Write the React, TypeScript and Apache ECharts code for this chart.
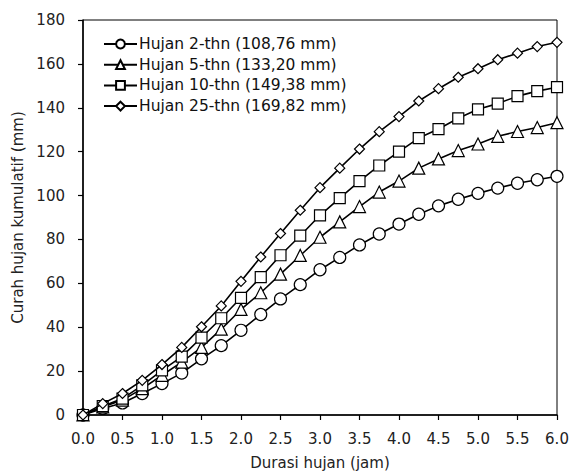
import React, { useEffect, useRef } from "react";
import * as echarts from "echarts";

const durations = [0, 0.25, 0.5, 0.75, 1, 1.25, 1.5, 1.75, 2, 2.25, 2.5, 2.75, 3, 3.25, 3.5, 3.75, 4, 4.25, 4.5, 4.75, 5, 5.25, 5.5, 5.75, 6];
const hujan2 = [0, 3.0, 5.5, 9.8, 14.3, 19.1, 25.6, 31.6, 38.6, 45.8, 52.9, 59.4, 66.2, 71.8, 77.5, 82.5, 87.0, 91.5, 95.3, 98.3, 101.0, 103.4, 105.6, 107.2, 108.76];
const hujan5 = [0, 3.7, 6.8, 12.0, 18.1, 24.1, 30.8, 39.1, 48.1, 55.7, 64.2, 72.7, 81.0, 88.0, 95.0, 101.6, 106.6, 112.5, 116.7, 120.5, 123.5, 127.0, 129.2, 131.0, 133.2];
const hujan10 = [0, 4.0, 7.5, 13.5, 20.3, 26.6, 35.3, 44.1, 53.4, 62.8, 72.8, 81.7, 91.0, 98.8, 106.6, 113.7, 120.0, 126.2, 130.3, 135.2, 139.3, 141.9, 145.3, 147.6, 149.38];
const hujan25 = [0, 5.2, 9.8, 15.8, 23.0, 30.8, 40.2, 49.7, 60.9, 72.0, 82.7, 93.3, 103.6, 112.5, 121.2, 129.1, 136.0, 143.1, 148.7, 153.9, 157.8, 161.9, 164.9, 167.9, 169.82];
const seriesNames = ["Hujan 2-thn (108,76 mm)", "Hujan 5-thn (133,20 mm)", "Hujan 10-thn (149,38 mm)", "Hujan 25-thn (169,82 mm)"];
const symbols = ["circle", "triangle", "rect", "diamond"];
const symbolSizes = [12, 12, 11, 10];

const FONT = "'DejaVu Sans', 'Liberation Sans', Arial, sans-serif";

export default function App() {
  const ref = useRef<HTMLDivElement>(null);
  useEffect(() => {
    if (!ref.current) return;
    const chart = echarts.init(ref.current, null, { renderer: "svg" });
    const all = [hujan2, hujan5, hujan10, hujan25];
    chart.setOption({
      animation: false,
      backgroundColor: "#fff",
      textStyle: { fontFamily: FONT },
      grid: { left: 83, right: 17, top: 20, bottom: 57, show: true, borderColor: "#000", borderWidth: 1 },
      legend: {
        orient: "vertical",
        left: 103,
        top: 36,
        padding: 0,
        itemWidth: 33,
        itemHeight: 11,
        itemGap: 4.7,
        textStyle: { fontSize: 15.5, lineHeight: 16, color: "#111", fontFamily: FONT, padding: [0, 0, 0, -3] },
        data: seriesNames,
      },
      xAxis: {
        type: "value",
        min: 0,
        max: 6,
        interval: 0.5,
        name: "Durasi hujan (jam)",
        nameLocation: "middle",
        nameGap: 40,
        nameTextStyle: { fontSize: 15, color: "#222", fontFamily: FONT },
        axisLine: { lineStyle: { color: "#000", width: 1.5 } },
        axisTick: { show: true, inside: false, length: 5, lineStyle: { color: "#000", width: 1.2 } },
        axisLabel: { fontSize: 15, color: "#222", margin: 16, fontFamily: FONT, formatter: (v: number) => v.toFixed(1) },
        splitLine: { show: false },
      },
      yAxis: {
        type: "value",
        min: 0,
        max: 180,
        interval: 20,
        name: "Curah hujan kumulatif (mm)",
        nameLocation: "middle",
        nameGap: 47.5,
        nameTextStyle: { fontSize: 15, color: "#222", fontFamily: FONT },
        axisLine: { show: true, lineStyle: { color: "#000", width: 1.5 } },
        axisTick: { show: true, inside: false, length: 5, lineStyle: { color: "#000", width: 1.2 } },
        axisLabel: { fontSize: 15, color: "#222", margin: 18, fontFamily: FONT },
        splitLine: { show: false },
      },
      series: all.map((vals, i) => ({
        name: seriesNames[i],
        type: "line",
        data: durations.map((d, j) => [d, vals[j]]),
        symbol: symbols[i],
        symbolSize: symbolSizes[i],
        showAllSymbol: true,
        lineStyle: { color: "#000", width: 1.6 },
        itemStyle: { color: "#fff", borderColor: "#000", borderWidth: 1.2 },
        z: 2 + i,
      })),
    });
    return () => chart.dispose();
  }, []);
  return <div ref={ref} style={{ position: "fixed", left: 0, top: 0, width: 574, height: 475 }} />;
}
